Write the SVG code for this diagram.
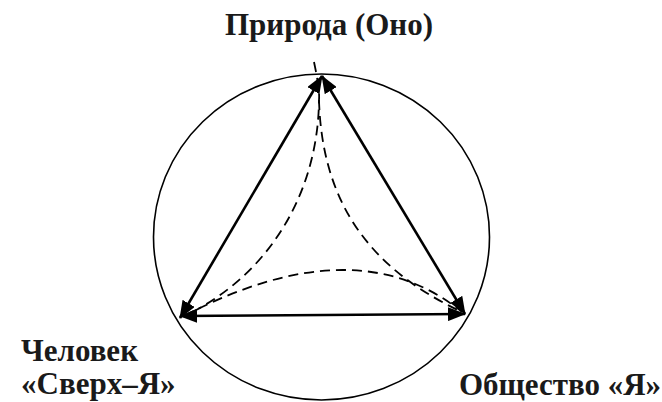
<svg xmlns="http://www.w3.org/2000/svg" width="662" height="402" viewBox="0 0 662 402">
<style>
.lbl{font-family:"Liberation Serif","Times New Roman",serif;font-weight:bold;font-size:31px;fill:#1a1a1a}
.solid{stroke:#000;stroke-width:2.6;fill:none}
.dash{stroke:#000;stroke-width:1.8;fill:none;stroke-dasharray:10 6}
</style>
<defs>
<marker id="ah" viewBox="0 0 18 14" refX="17" refY="7" markerWidth="18" markerHeight="14" markerUnits="userSpaceOnUse" orient="auto-start-reverse">
<path d="M0,0 L18,7 L0,14 z" fill="#000"/>
</marker>
</defs>
<ellipse id="circle" cx="321.5" cy="237" rx="168" ry="163" fill="none" stroke="#000" stroke-width="1.6"/>
<g id="connectors">
<line class="solid" x1="322" y1="76" x2="180" y2="318" marker-start="url(#ah)" marker-end="url(#ah)"/>
<line class="solid" x1="322" y1="76" x2="465" y2="314" marker-start="url(#ah)" marker-end="url(#ah)"/>
<line class="solid" x1="180" y1="316" x2="465" y2="314" marker-start="url(#ah)" marker-end="url(#ah)"/>
<path class="dash" d="M314,62 Q320,90 319,100 C318,200 262,280 184,316"/>
<path class="dash" d="M319,100 C322,205 372,270 462,312"/>
<path class="dash" d="M184,316 Q356,226 462,312"/>
</g>
<g id="priroda"><text class="lbl" x="329" y="35" text-anchor="middle">Природа (Оно)</text></g>
<g id="chelovek"><text class="lbl" x="21" y="361">Человек</text><text class="lbl" x="21" y="394">«Сверх–Я»</text></g>
<g id="obshchestvo"><text class="lbl" x="459" y="395">Общество «Я»</text></g>
</svg>
